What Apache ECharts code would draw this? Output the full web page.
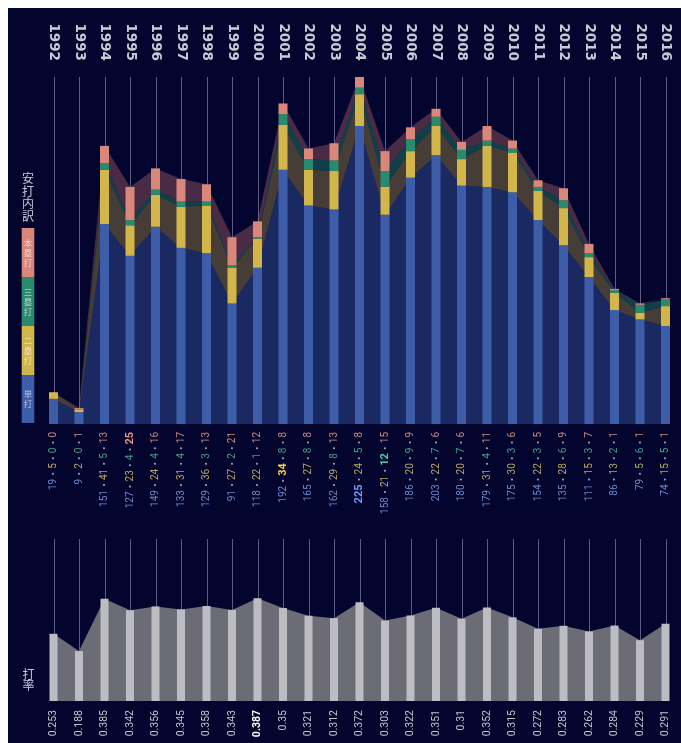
<!DOCTYPE html>
<html><head><meta charset="utf-8">
<script src="https://cdn.jsdelivr.net/npm/echarts@6/dist/echarts.min.js"></script>
<style>html,body{margin:0;padding:0;background:#ffffff;}#c{position:absolute;left:8px;top:8px;width:673px;height:735px;}</style>
</head><body><div id="c"></div>
<script>
const years = ['1992','1993','1994','1995','1996','1997','1998','1999','2000','2001','2002','2003','2004','2005','2006','2007','2008','2009','2010','2011','2012','2013','2014','2015','2016'];
const singles  = [19, 9,151,127,149,133,129, 91,118,192,165,162,225,158,186,203,180,179,175,154,135,111, 86, 79, 74];
const doubles  = [ 5, 2, 41, 23, 24, 31, 36, 27, 22, 34, 27, 29, 24, 21, 20, 22, 20, 31, 30, 22, 28, 15, 13,  5, 15];
const triples  = [ 0, 0,  5,  4,  4,  4,  3,  2,  1,  8,  8,  8,  5, 12,  9,  7,  7,  4,  3,  3,  6,  3,  2,  6,  5];
const homeRuns = [ 0, 1, 13, 25, 16, 17, 13, 21, 12,  8,  8, 13,  8, 15,  9,  6,  6, 11,  6,  5,  9,  7,  1,  1,  1];
const battingAvg = [0.253,0.188,0.385,0.342,0.356,0.345,0.358,0.343,0.387,0.35,0.321,0.312,0.372,0.303,0.322,0.351,0.31,0.352,0.315,0.272,0.283,0.262,0.284,0.229,0.291];
const boldSingles = ['2004'];
const boldDoubles = ['2001'];
const boldTriples = ['2005'];
const boldHomeRuns = ['1995'];
const boldAvg = ['2000'];
const hitTypes = ['単打','二塁打','三塁打','本塁打'];
const breakdownTitle = '安打内訳';
const avgTitle = '打率';

const BG = '#04052f';
const barColors = ['#3d5da9','#d2b64c','#2a8a6d','#d9867b'];
const areaColors = ['rgba(60,92,172,0.42)','rgba(205,178,70,0.33)','rgba(35,150,115,0.40)','rgba(215,120,115,0.33)'];
const labelColors = ['#6f88c8','#b9a765','#4a9c88','#c98b83'];
const boldColors = ['#6f9cff','#f0d050','#3fd6b0','#f09080'];
const hitSeries = [singles, doubles, triples, homeRuns];
const boldLists = [boldSingles, boldDoubles, boldTriples, boldHomeRuns];
const totals = years.map((y,i)=>singles[i]+doubles[i]+triples[i]+homeRuns[i]);
const maxTotal = Math.max(...totals);
const avgMax = 0.61;

const chart = echarts.init(document.getElementById('c'));

const rich = {p:{color:'#9a9ab4',fontSize:10,fontFamily:'Noto Sans CJK JP'}};
['a','b','c','d'].forEach((k,j)=>{
  rich[k] = {color:labelColors[j],fontSize:10,fontFamily:'Roboto'};
  rich[k+'B'] = {color:boldColors[j],fontSize:11,fontWeight:'bold',fontFamily:'Roboto'};
});

function hitLabel(val, idx){
  const i = years.indexOf(val);
  return ['a','b','c','d'].map((k,j)=>{
    const key = boldLists[j].includes(val) ? k+'B' : k;
    return '{'+key+'|'+hitSeries[j][i]+'}';
  }).join('{p|・}');
}

function vline(color){
  return function(params, api){
    const top = api.coord([api.value(0), api.value(1)]);
    const bot = api.coord([api.value(0), 0]);
    const x = Math.round(top[0]) + 0.5;
    return {type:'line', shape:{x1:x,y1:top[1],x2:x,y2:bot[1]}, style:{stroke:color,lineWidth:1}};
  };
}

const gridLeft = 32.75, gridRight = 2.75;
const series = [];
series.push({type:'custom', xAxisIndex:0, yAxisIndex:0, z:1, silent:true,
  renderItem: vline('#5c5c84'), data: years.map((y,i)=>[i, maxTotal])});
hitSeries.forEach((arr,j)=>{
  series.push({type:'line', name:hitTypes[j]+'_area', stack:'area', xAxisIndex:0, yAxisIndex:0, z:2, silent:true,
    data:arr, symbol:'none', lineStyle:{width:0}, areaStyle:{color:areaColors[j], opacity:1}});
});
hitSeries.forEach((arr,j)=>{
  series.push({type:'bar', name:hitTypes[j], stack:'hits', xAxisIndex:0, yAxisIndex:0, z:3, barWidth:9,
    data:arr, itemStyle:{color:barColors[j]}});
});
series.push({type:'custom', xAxisIndex:2, yAxisIndex:1, z:1, silent:true,
  renderItem: vline('#5c5c84'), data: years.map((y,i)=>[i, avgMax])});
series.push({type:'line', xAxisIndex:2, yAxisIndex:1, z:2, silent:true, data:battingAvg, symbol:'none',
  lineStyle:{width:0}, areaStyle:{color:'#6c6c76', opacity:1}});
series.push({type:'bar', xAxisIndex:2, yAxisIndex:1, z:3, barWidth:8, data:battingAvg, itemStyle:{color:'#bcbcc2'}});

function legendBlocks(){
  const g = [];
  const x = 13.7, w = 12.6;
  const ys = [[220,269],[269,317.7],[317.7,367],[367,415]];
  for (let j=3;j>=0;j--){
    const [y0,y1] = ys[3-j];
    g.push({type:'rect', shape:{x:x,y:y0,width:w,height:y1-y0}, style:{fill:barColors[j]}, silent:true});
    g.push({type:'text', x:x+w/2, y:(y0+y1)/2, silent:true, style:{text:hitTypes[j].split('').join('\n'),
      fill:'rgba(255,255,255,0.6)', font:'8.5px "Noto Sans CJK JP"', lineHeight:10, align:'center', verticalAlign:'middle'}});
  }
  g.push({type:'text', x:20, y:189.5, silent:true, style:{text:breakdownTitle.split('').join('\n'),
    fill:'#c9c9d6', font:'12px "Noto Sans CJK JP"', lineHeight:12.5, align:'center', verticalAlign:'middle'}});
  g.push({type:'text', x:20.5, y:672, silent:true, style:{text:avgTitle.split('').join('\n'),
    fill:'#c9c9d6', font:'12px "Noto Sans CJK JP"', lineHeight:11.5, align:'center', verticalAlign:'middle'}});
  return g;
}

chart.setOption({
  backgroundColor: BG,
  animation:false,
  grid:[
    {left:gridLeft, right:gridRight, top:69, height:347},
    {left:gridLeft, right:gridRight, top:531, height:162}
  ],
  xAxis:[
    {type:'category', gridIndex:0, data:years, position:'bottom', axisLine:{show:false}, axisTick:{show:false},
      axisLabel:{rotate:90, margin:8, interval:0, formatter:hitLabel, rich:rich}},
    {type:'category', gridIndex:0, data:years, position:'top', axisLine:{show:false}, axisTick:{show:false},
      axisLabel:{rotate:90, margin:16, interval:0, color:'#c9c9d6', fontSize:13.5, fontWeight:'bold', fontFamily:'DejaVu Sans'}},
    {type:'category', gridIndex:1, data:years, position:'bottom', axisLine:{show:false}, axisTick:{show:false},
      axisLabel:{rotate:90, margin:9, interval:0,
        formatter:function(val){const i=years.indexOf(val); return boldAvg.includes(val)?'{b|'+battingAvg[i]+'}':'{n|'+battingAvg[i]+'}';},
        rich:{n:{color:'#c4c4cc',fontSize:10.5,fontFamily:'Roboto'}, b:{color:'#ffffff',fontSize:10.5,fontWeight:'bold',fontFamily:'Roboto'}}}}
  ],
  yAxis:[
    {type:'value', gridIndex:0, min:0, max:maxTotal, show:false, splitLine:{show:false}},
    {type:'value', gridIndex:1, min:0, max:avgMax, show:false, splitLine:{show:false}}
  ],
  graphic: legendBlocks(),
  series: series
});
</script></body></html>
